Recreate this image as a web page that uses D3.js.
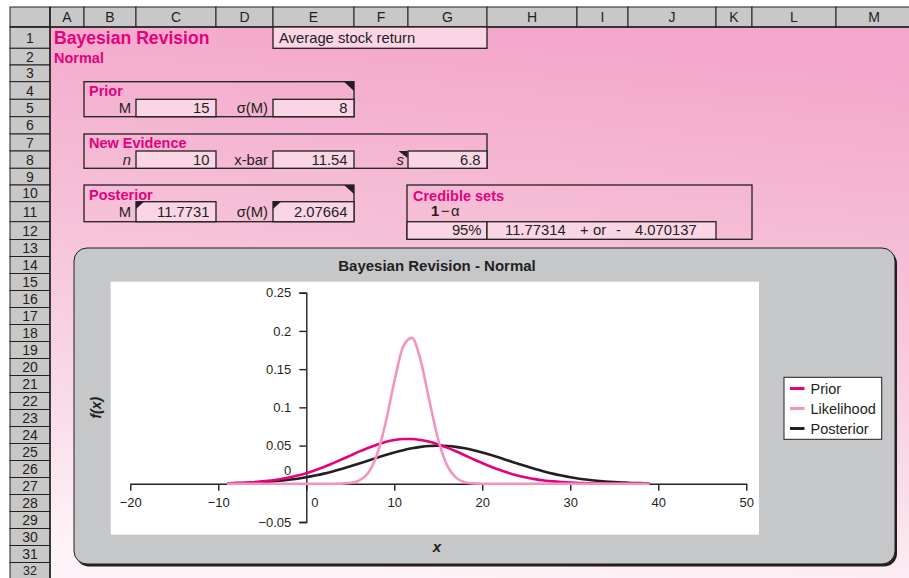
<!DOCTYPE html>
<html><head><meta charset="utf-8">
<script src="https://cdn.jsdelivr.net/npm/d3@7"></script>
<style>body{margin:0;background:#fff}svg{display:block;font-family:"Liberation Sans",Arial,Helvetica,sans-serif}</style>
</head><body><svg id="c" width="909" height="578"></svg>
<script>
// ---------- data ----------
const xValues = [-9,-8,-7,-6,-5,-4,-3,-2,-1,0,1,2,3,4,5,6,7,8,9,10,11,12,13,14,15,16,17,18,19,20,21,22,23,24,25,26,27,28,29,30,31,32,33,34,35,36,37,38,39];
const priorValues = [0.0006,0.0009,0.0014,0.0021,0.0031,0.0043,0.0060,0.0081,0.0107,0.0139,0.0177,0.0219,0.0267,0.0317,0.0369,0.0421,0.0469,0.0512,0.0547,0.0572,0.0585,0.0585,0.0573,0.0550,0.0515,0.0473,0.0425,0.0374,0.0321,0.0271,0.0223,0.0180,0.0142,0.0109,0.0083,0.0061,0.0044,0.0031,0.0022,0.0015,0.0010,0.0006,0.0004,0.0003,0.0002,0.0001,0.0001,0.0000,0.0000];
const likelihoodValues = [0,0,0,0,0,0,0,0,0,0,0,0,0.0000,0.0002,0.0010,0.0041,0.0138,0.0370,0.0790,0.1336,0.1793,0.1909,0.1612,0.1079,0.0573,0.0241,0.0081,0.0021,0.0005,0.0001,0,0,0,0,0,0,0,0,0,0,0,0,0,0,0,0,0,0,0];
const posteriorValues = [0.0006,0.0008,0.0011,0.0016,0.0022,0.0030,0.0040,0.0052,0.0067,0.0086,0.0108,0.0133,0.0162,0.0194,0.0228,0.0265,0.0302,0.0340,0.0376,0.0410,0.0440,0.0465,0.0483,0.0495,0.0499,0.0495,0.0483,0.0465,0.0440,0.0410,0.0376,0.0340,0.0302,0.0265,0.0228,0.0194,0.0162,0.0133,0.0108,0.0086,0.0067,0.0052,0.0040,0.0030,0.0022,0.0016,0.0011,0.0008,0.0006];
const seriesNames = ["Prior","Likelihood","Posterior"];
const xTicks = [-20,-10,0,10,20,30,40,50];
const yTicks = [-0.05,0,0.05,0.1,0.15,0.2,0.25];
const yTickLabels = ["\u22120.05","0","0.05","0.1","0.15","0.2","0.25"];
const columnLetters = ["A","B","C","D","E","F","G","H","I","J","K","L","M"];

// ---------- layout ----------
const MAG = "#e6007e", PINK = "#f394c0", DARK = "#231f20";
const svg = d3.select("#c");
const defs = svg.append("defs");
const grad = defs.append("linearGradient").attr("id","bg").attr("gradientUnits","userSpaceOnUse")
  .attr("x1",480).attr("y1",27).attr("x2",430).attr("y2",578);
[[0,"#f3a7ca"],[0.4,"#f6c1d8"],[0.75,"#f9dce9"],[1,"#fef3f8"]].forEach(s=>grad.append("stop").attr("offset",s[0]).attr("stop-color",s[1]));

const colEdges = [50,84,136,216,273,354,408,487,577,628,716,752,836,912];
const rowEdges = [27,48.3,65,81.7,99.3,116.7,134,151,168.3,185,201.7,221.7,239.5];
for (let r = 13; r <= 32; r++) rowEdges.push(239.5 + (r-12)*17.0);

// sheet background
svg.append("rect").attr("x",50).attr("y",27).attr("width",860).attr("height",560).attr("fill","url(#bg)");

// column headers
const hdr = svg.append("g");
hdr.append("rect").attr("x",10).attr("y",7).attr("width",40).attr("height",20).attr("fill","#c8c8c8").attr("stroke",DARK);
columnLetters.forEach((c,i)=>{
  hdr.append("rect").attr("x",colEdges[i]).attr("y",7).attr("width",colEdges[i+1]-colEdges[i]).attr("height",20)
    .attr("fill","#c8c8c8").attr("stroke",DARK).attr("stroke-width",1);
  hdr.append("text").attr("x",(colEdges[i]+colEdges[i+1])/2).attr("y",22).attr("text-anchor","middle")
    .attr("font-size",14).attr("fill",DARK).text(c);
});
// row headers
for (let r = 1; r <= 32; r++) {
  const y0 = rowEdges[r-1], y1 = rowEdges[r] !== undefined ? rowEdges[r] : y0+17.0;
  hdr.append("rect").attr("x",10).attr("y",y0).attr("width",40).attr("height",y1-y0)
    .attr("fill","#c8c8c8").attr("stroke",DARK).attr("stroke-width",1);
  hdr.append("text").attr("x",30).attr("y",Math.min((y0+y1)/2+5,575)).attr("text-anchor","middle")
    .attr("font-size",r===32?12.5:14).attr("fill",DARK).text(r);
}
hdr.append("line").attr("x1",50).attr("x2",50).attr("y1",7).attr("y2",578).attr("stroke",DARK).attr("stroke-width",1.5);
hdr.append("line").attr("x1",10).attr("x2",909).attr("y1",27).attr("y2",27).attr("stroke",DARK).attr("stroke-width",1.5);

const sheet = svg.append("g");
function box(x0,x1,y0,y1,fill){
  sheet.append("rect").attr("x",x0).attr("y",y0).attr("width",x1-x0).attr("height",y1-y0)
    .attr("fill",fill||"none").attr("stroke",DARK).attr("stroke-width",1.3);
}
function txt(x,y,s,o){
  o = o||{};
  const t = sheet.append("text").attr("x",x).attr("y",y).attr("font-size",o.size||14.8)
    .attr("fill",o.fill||DARK).attr("text-anchor",o.anchor||"start").text(s);
  if (o.bold) t.attr("font-weight","bold");
  if (o.italic) t.attr("font-style","italic");
  return t;
}
function tri(pts){ sheet.append("path").attr("d","M"+pts.map(p=>p.join(",")).join("L")+"Z").attr("fill",DARK); }
const CELL = "#f9d5e6";

// Row 1-2
txt(54,44,"Bayesian Revision",{size:17.6,bold:true,fill:MAG});
txt(54,63,"Normal",{size:14.5,bold:true,fill:MAG});
box(273,487,27,48.3,CELL);
txt(279,43,"Average stock return");

// Prior
box(84,354,81.7,116.7);
tri([[344,81.7],[354,81.7],[354,91]]);
txt(89,96,"Prior",{size:14.5,bold:true,fill:MAG});
txt(131,112.5,"M",{anchor:"end"});
box(136,216,99.3,116.7,CELL); txt(209.5,112.5,"15",{anchor:"end"});
txt(268,112.5,"\u03c3(M)",{anchor:"end"});
box(273,354,99.3,116.7,CELL); txt(347.5,112.5,"8",{anchor:"end"});

// New Evidence
box(84,487,134,168.3);
txt(89,147.5,"New Evidence",{size:14.5,bold:true,fill:MAG});
txt(131,164.5,"n",{anchor:"end",italic:true});
box(136,216,151,168.3,CELL); txt(209.5,164.5,"10",{anchor:"end"});
txt(268,164.5,"x-bar",{anchor:"end"});
box(273,354,151,168.3,CELL); txt(347.5,164.5,"11.54",{anchor:"end"});
txt(404,164.5,"s",{anchor:"end",italic:true});
box(408,487,151,168.3,CELL); txt(480.5,164.5,"6.8",{anchor:"end"});
tri([[398.5,151],[407.5,151],[407.5,158]]);

// Posterior
box(84,354,185,221.7);
tri([[344,185],[354,185],[354,194]]);
txt(89,200,"Posterior",{size:14.5,bold:true,fill:MAG});
txt(131,216.5,"M",{anchor:"end"});
box(136,216,201.7,221.7,CELL); txt(209.5,216.5,"11.7731",{anchor:"end"});
tri([[136,201.7],[144,201.7],[136,209]]);
txt(268,216.5,"\u03c3(M)",{anchor:"end"});
box(273,354,201.7,221.7,CELL); txt(347.5,216.5,"2.07664",{anchor:"end"});
tri([[273,201.7],[281,201.7],[273,209]]);

// Credible sets
box(407,752,185,239.3);
txt(413,201,"Credible sets",{size:14.5,bold:true,fill:MAG});
txt(431,216,"1",{bold:true});
txt(441,216,"\u2212");
txt(451,216,"\u03b1");
box(407,487,221.7,239.3,CELL); txt(481.5,235,"95%",{anchor:"end"});
box(487,716,221.7,239.3,CELL);
txt(505,235,"11.77314");
txt(580,235,"+");
txt(593,235,"or");
txt(616,235,"-");
txt(635,235,"4.070137");

// ---------- chart ----------
const ch = svg.append("g");
ch.append("rect").attr("x",76).attr("y",250.5).attr("width",821).attr("height",316).attr("rx",13).attr("fill",DARK);
ch.append("rect").attr("x",74).attr("y",248).attr("width",821).attr("height",316).attr("rx",13)
  .attr("fill","#c6c7c9").attr("stroke",DARK).attr("stroke-width",1);
ch.append("rect").attr("x",110.7).attr("y",281.7).attr("width",648.3).attr("height",253).attr("fill","#fff");

ch.append("text").attr("x",437).attr("y",271).attr("text-anchor","middle").attr("font-size",15)
  .attr("font-weight","bold").attr("fill",DARK).text("Bayesian Revision - Normal");

const x = d3.scaleLinear().domain([-20,50]).range([130.3,746.3]);
const y = d3.scaleLinear().domain([-0.05,0.25]).range([522,292.7]);

// y axis
const yAxis = ch.append("g").attr("transform",`translate(${x(0)},0)`)
  .call(d3.axisLeft(y).tickValues(yTicks).tickSize(7).tickPadding(8).tickFormat((d,i)=>yTickLabels[i]));
yAxis.select(".domain").attr("stroke",DARK).attr("stroke-width",1.4);
yAxis.selectAll(".tick line").attr("stroke",DARK).attr("stroke-width",1.4);
yAxis.selectAll(".tick text").attr("font-size",13).attr("fill",DARK).attr("font-family",null);
yAxis.selectAll(".tick").filter(d=>d===0).select("text").attr("dy","-0.75em");

// x axis
const xAxis = ch.append("g").attr("transform",`translate(0,${y(0)})`)
  .call(d3.axisBottom(x).tickValues(xTicks).tickSize(7).tickPadding(7).tickSizeOuter(0));
xAxis.select(".domain").attr("stroke",DARK).attr("stroke-width",1.4);
xAxis.selectAll(".tick line").attr("stroke",DARK).attr("stroke-width",1.4);
xAxis.selectAll(".tick text").attr("font-size",13).attr("fill",DARK).attr("font-family",null);
xAxis.selectAll(".tick").filter(d=>d===0).select("text").attr("dx","8");

// lines
const line = d3.line().x(d=>x(d[0])).y(d=>y(d[1])).curve(d3.curveMonotoneX);
const series = [
  {name:"Posterior", values:posteriorValues, color:DARK},
  {name:"Prior", values:priorValues, color:MAG},
  {name:"Likelihood", values:likelihoodValues, color:PINK}
];
series.forEach(s=>{
  ch.append("path").datum(xValues.map((v,i)=>[v,s.values[i]]))
    .attr("d",line).attr("fill","none").attr("stroke",s.color).attr("stroke-width",2.6)
    .attr("stroke-linejoin","round");
});

// axis titles
ch.append("text").attr("transform","translate(101,407.7) rotate(-90)").attr("text-anchor","middle")
  .attr("font-size",14).attr("font-weight","bold").attr("font-style","italic").attr("fill",DARK).text("f(x)");
ch.append("text").attr("x",437).attr("y",552).attr("text-anchor","middle")
  .attr("font-size",15).attr("font-weight","bold").attr("font-style","italic").attr("fill",DARK).text("x");

// legend
const lg = ch.append("g");
lg.append("rect").attr("x",784).attr("y",377.3).attr("width",97.7).attr("height",62).attr("fill","#fff")
  .attr("stroke",DARK).attr("stroke-width",1);
const legendColors = {Prior:MAG, Likelihood:PINK, Posterior:DARK};
seriesNames.forEach((n,i)=>{
  const cy = 388.5 + i*20;
  lg.append("line").attr("x1",790).attr("x2",804.5).attr("y1",cy).attr("y2",cy)
    .attr("stroke",legendColors[n]).attr("stroke-width",3);
  lg.append("text").attr("x",810.5).attr("y",cy+5).attr("font-size",14.5).attr("fill",DARK).text(n);
});
</script></body></html>
